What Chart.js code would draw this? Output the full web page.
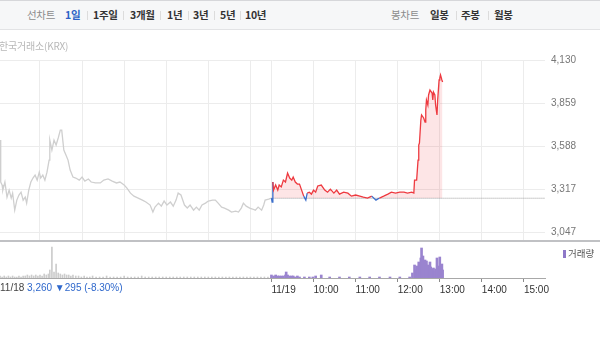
<!DOCTYPE html>
<html>
<head>
<meta charset="utf-8">
<script src="https://cdn.jsdelivr.net/npm/chart.js@4/dist/chart.umd.min.js"></script>
<style>
html,body{margin:0;padding:0;background:#fff;width:600px;height:347px;overflow:hidden;font-family:"Noto Sans CJK KR","Noto Sans",sans-serif;}
#hdr{position:absolute;left:0;top:0;width:600px;height:28px;background:#f6f7f8;border-top:1px solid #d6d7da;border-bottom:1px solid #e2e3e5;}
.it{position:absolute;top:7px;font-size:10.5px;line-height:14px;font-weight:bold;color:#333;letter-spacing:-0.3px;white-space:nowrap;}
.g{color:#8c8c8c;font-weight:normal;}
.b{color:#2c62c6;}
.sep{position:absolute;top:10px;width:1px;height:9px;background:#dcdcdc;}
#src{position:absolute;left:-1px;top:38px;font-size:10px;color:#b8b8b8;letter-spacing:-0.2px;}
#price{position:absolute;left:0;top:0;}
#line{position:absolute;left:0;top:240px;width:600px;height:2px;background:#c0c1c4;}
#vol{position:absolute;left:0;top:242px;}
#leg{position:absolute;left:563px;top:246px;font-size:9.5px;color:#555;white-space:nowrap;}
#leg i{display:inline-block;width:3px;height:8px;background:#8e78c8;margin-right:2px;vertical-align:-1px;}
#foot{position:absolute;left:0;top:282px;font-size:10px;font-family:"Liberation Sans",Arial,sans-serif;color:#444;white-space:nowrap;}
#foot span{color:#2f68cc;}
</style>
</head>
<body>
<div id="hdr">
  <div class="it g" style="left:27px">선차트</div>
  <div class="it b" style="left:65px">1일</div>
  <div class="sep" style="left:87px"></div>
  <div class="it" style="left:93px">1주일</div>
  <div class="sep" style="left:123px"></div>
  <div class="it" style="left:130px">3개월</div>
  <div class="sep" style="left:160px"></div>
  <div class="it" style="left:167px">1년</div>
  <div class="sep" style="left:188px"></div>
  <div class="it" style="left:193px">3년</div>
  <div class="sep" style="left:214px"></div>
  <div class="it" style="left:220px">5년</div>
  <div class="sep" style="left:240px"></div>
  <div class="it" style="left:245px">10년</div>
  <div class="it g" style="left:391px">봉차트</div>
  <div class="it" style="left:430px">일봉</div>
  <div class="sep" style="left:456px"></div>
  <div class="it" style="left:461px">주봉</div>
  <div class="sep" style="left:488px"></div>
  <div class="it" style="left:494px">월봉</div>
</div>
<canvas id="price" width="600" height="240"></canvas>
<div id="src">한국거래소(KRX)</div>
<div id="line"></div>
<canvas id="vol" width="600" height="58"></canvas>
<div id="leg"><i></i>거래량</div>
<div id="foot">11/18 <span>3,260 ▼295 (-8.30%)</span></div>
<script>
// ---- data (minutes since 11/18 09:00; 11/19 09:00 = 390) ----
const prevClose = 3260;
const priceTicks = [3047, 3317, 3588, 3859, 4130];
const hourGridMinutes = [60, 120, 180, 240, 300, 360, 390, 450, 510, 570, 630, 690, 750];
const timeTickMinutes = [390, 450, 510, 570, 630, 690, 750];
const timeTickLabels = ['11/19', '10:00', '11:00', '12:00', '13:00', '14:00', '15:00'];

const prevMinutes = [3,4,6,7,10,13,16,19,21,24,27,30,33,36,39,41,44,47,50,53,56,59,61,64,67,70,73,74,77,80,83,86,89,91,94,97,100,103,107,111,116,120,124,129,133,139,146,151,157,163,169,174,180,184,189,194,200,206,211,217,221,224,229,233,237,241,246,250,254,257,261,266,270,274,279,283,287,291,296,300,306,310,314,319,323,329,333,339,343,347,350,354,359,363,367,371,376,379,381,386,390];
const prevPrices = [3626,3362,3343,3311,3362,3267,3311,3261,3292,3185,3248,3280,3298,3248,3267,3229,3311,3362,3387,3406,3374,3424,3387,3406,3374,3424,3500,3626,3563,3626,3595,3639,3689,3689,3563,3532,3500,3437,3393,3387,3374,3393,3368,3381,3362,3356,3356,3374,3381,3368,3356,3362,3343,3324,3292,3273,3261,3248,3236,3217,3173,3204,3229,3210,3242,3217,3236,3210,3248,3292,3280,3217,3198,3217,3185,3204,3185,3217,3229,3242,3248,3248,3229,3204,3198,3185,3173,3179,3173,3198,3229,3210,3198,3192,3185,3204,3185,3217,3248,3254,3260];

const todayMinutes = [390,391,392,393,396,399,401,404,407,410,413,416,419,421,424,427,430,433,436,439,441,444,447,450,453,456,461,466,470,474,479,483,487,493,499,504,510,516,521,527,533,539,544,550,556,561,567,573,579,584,590,593,594,597,599,600,601,603,604,607,609,610,611,613,614,616,619,620,621,623,624,626,627,629,630,631,633,634];
const todayPrices = [3260,3236,3362,3311,3343,3311,3343,3331,3374,3362,3418,3387,3374,3393,3362,3349,3349,3311,3273,3248,3292,3298,3286,3311,3298,3337,3343,3311,3298,3317,3292,3311,3286,3298,3292,3273,3280,3273,3267,3261,3273,3248,3261,3273,3286,3298,3292,3298,3298,3292,3298,3292,3374,3374,3500,3595,3607,3752,3784,3765,3739,3815,3878,3847,3910,3941,3922,3878,3928,3910,3847,3784,3878,4004,4017,4036,4004,3991];

// volume in thousand shares
const prevVolMinutes = [3,6,9,12,15,18,21,24,27,30,33,36,39,42,45,48,51,54,57,60,63,66,69,72,74,77,80,83,86,89,92,95,98,101,104,107,111,115,119,123,127,131,135,140,145,150,155,160,165,170,175,180,185,190,195,200,205,210,215,220,225,230,235,240,245,250,255,260,265,270,275,280,285,290,295,300,305,310,315,320,325,330,335,340,345,350,355,360,365,370,375,380,385,389];
const prevVolumes = [2,1,2,1,2,1,2,1,1,2,1,2,2,3,2,3,2,3,2,3,2,4,3,4,8,31,6,14,5,4,3,4,3,3,2,3,2,2,1,2,1,1,2,1,1,1,2,1,1,1,1,2,1,1,1,1,2,1,1,1,1,1,1,1,1,1,1,1,1,1,1,1,1,1,1,1,1,1,1,1,1,1,1,1,1,1,1,1,1,1,1,1,1,1];
const todayVolMinutes = [390,393,396,399,401,404,407,410,411,413,416,419,421,424,427,430,437,444,449,453,461,473,487,501,516,530,544,559,573,587,591,594,596,597,599,600,601,603,604,606,607,609,610,611,613,614,616,617,619,620,621,623,624,626,627,629,630,631,633,634];
const todayVolumes = [3,2,3,2,2,2,2,3,6,3,2,2,2,1,2,1,1,1,1,2,3,1,1,1,1,1,1,1,1,1,5,13,8,12,10,16,12,20,30,22,14,18,12,17,13,10,16,11,9,8,10,7,9,20,12,9,21,11,14,8];

const pts = (xs, ys) => xs.map((x, i) => ({x: x, y: ys[i]}));
const UP = '#ee3a40', DOWN = '#3b6fcc';
const numFont = {family: '"Liberation Sans", Arial, sans-serif', size: 10};

new Chart(document.getElementById('price'), {
  type: 'line',
  data: {
    datasets: [
      {
        data: pts(todayMinutes, todayPrices),
        borderColor: UP, borderWidth: 1.3, pointRadius: 0, tension: 0,
        fill: {value: prevClose, above: 'rgba(243,80,90,0.15)', below: 'rgba(60,110,210,0.15)'},
        segment: {borderColor: c => (c.p0.parsed.y < prevClose || c.p1.parsed.y < prevClose) ? DOWN : UP}
      },
      {
        data: [{x: 390, y: prevClose}, {x: 780, y: prevClose}],
        borderColor: '#9c9c9c', borderWidth: 1, borderDash: [1, 1], pointRadius: 0, fill: false
      },
      {
        data: pts(prevMinutes, prevPrices),
        borderColor: '#cfcfcf', borderWidth: 1.3, pointRadius: 0, tension: 0, fill: false
      }
    ]
  },
  options: {
    responsive: false, animation: false, events: [],
    layout: {padding: {top: 60, left: 0, right: 0, bottom: 0}},
    plugins: {legend: {display: false}, tooltip: {enabled: false}},
    scales: {
      x: {
        type: 'linear', min: 3, max: 780,
        afterBuildTicks: s => { s.ticks = hourGridMinutes.map(v => ({value: v})); },
        ticks: {display: false},
        grid: {color: '#ececec', drawTicks: false},
        border: {display: false},
        afterFit: s => { s.height = 0; s.paddingLeft = 0; s.paddingRight = 0; }
      },
      y: {
        position: 'right', min: 2997, max: 4130,
        afterBuildTicks: s => { s.ticks = priceTicks.map(v => ({value: v})); },
        ticks: {color: '#777', font: numFont, padding: 6, callback: v => v.toLocaleString('en-US')},
        grid: {color: '#ececec', drawTicks: false},
        border: {display: false},
        afterFit: s => { s.width = 55; s.paddingTop = 0; s.paddingBottom = 0; }
      }
    }
  }
});

new Chart(document.getElementById('vol'), {
  type: 'bar',
  data: {
    datasets: [
      {data: pts(todayVolMinutes, todayVolumes), backgroundColor: '#9a84cf', barThickness: 2, grouped: false},
      {data: pts(prevVolMinutes, prevVolumes), backgroundColor: '#cccccc', barThickness: 1, grouped: false}
    ]
  },
  options: {
    responsive: false, animation: false, events: [],
    layout: {padding: {top: 0, left: 0, right: 55, bottom: 0}},
    plugins: {legend: {display: false}, tooltip: {enabled: false}},
    scales: {
      x: {
        type: 'linear', min: 3, max: 780, offset: false,
        afterBuildTicks: s => { s.ticks = timeTickMinutes.map(v => ({value: v})); },
        ticks: {display: true, align: 'start', color: '#333', font: numFont, padding: 2, maxRotation: 0, autoSkip: false,
                callback: (v, i) => timeTickLabels[i]},
        grid: {display: true, drawOnChartArea: false, drawTicks: true, tickLength: 4, color: '#8a8a8a', offset: false},
        border: {display: true, color: '#a8a8a8'},
        afterFit: s => { s.height = 22; }
      },
      y: {display: false, min: 0, max: 36}
    }
  }
});
</script>
</body>
</html>
